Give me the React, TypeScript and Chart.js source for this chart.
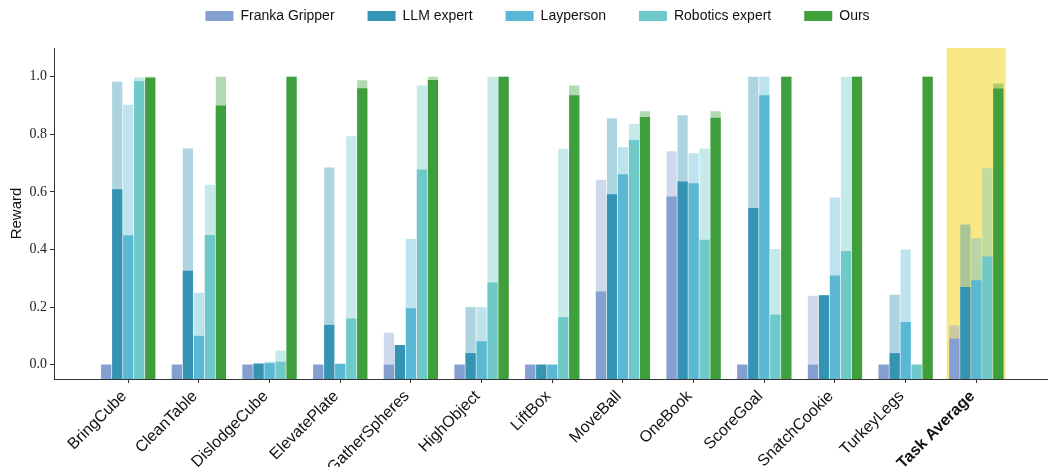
import React, { useEffect, useRef } from 'react';
import { Chart, registerables } from 'chart.js';

Chart.register(...registerables);

const categories = [
  'BringCube', 'CleanTable', 'DislodgeCube', 'ElevatePlate', 'GatherSpheres', 'HighObject',
  'LiftBox', 'MoveBall', 'OneBook', 'ScoreGoal', 'SnatchCookie', 'TurkeyLegs', 'Task Average',
];

const seriesNames = ['Franka Gripper', 'LLM expert', 'Layperson', 'Robotics expert', 'Ours'];
const seriesColors = ['#859fd0', '#3594b4', '#5ab8d4', '#70c9c9', '#3f9f3c'];

// solid bars (average reward)
const frankaAvg = [0, 0, 0, 0, 0, 0, 0, 0.254, 0.584, 0, 0, 0, 0.09];
const llmAvg = [0.609, 0.326, 0.003, 0.138, 0.068, 0.04, 0, 0.592, 0.636, 0.544, 0.241, 0.04, 0.27];
const laypersonAvg = [0.449, 0.1, 0.005, 0.003, 0.196, 0.081, 0, 0.661, 0.63, 0.936, 0.31, 0.148, 0.293];
const roboticsAvg = [0.985, 0.45, 0.01, 0.16, 0.678, 0.285, 0.165, 0.78, 0.434, 0.174, 0.395, 0, 0.376];
const oursAvg = [0.997, 0.9, 1.0, 0.96, 0.989, 1.0, 0.936, 0.86, 0.858, 1.0, 1.0, 1.0, 0.959];

// light bars (best reward)
const frankaBest = [0, 0, 0, 0, 0.111, 0, 0, 0.642, 0.741, 0, 0.239, 0, 0.136];
const llmBest = [0.983, 0.751, 0.005, 0.685, 0.068, 0.2, 0, 0.856, 0.866, 1.0, 0.241, 0.243, 0.487];
const laypersonBest = [0.903, 0.25, 0.01, 0.003, 0.436, 0.2, 0, 0.756, 0.734, 1.0, 0.581, 0.4, 0.439];
const roboticsBest = [0.998, 0.625, 0.049, 0.793, 0.97, 1.0, 0.75, 0.837, 0.751, 0.402, 1.0, 0, 0.682];
const oursBest = [1.0, 1.0, 1.0, 0.988, 1.0, 1.0, 0.97, 0.88, 0.88, 1.0, 1.0, 1.0, 0.977];

const yTicks = [0, 0.2, 0.4, 0.6, 0.8, 1.0];

const avgSeries = [frankaAvg, llmAvg, laypersonAvg, roboticsAvg, oursAvg];
const bestSeries = [frankaBest, llmBest, laypersonBest, roboticsBest, oursBest];

function withAlpha(hex: string, a: number) {
  const r = parseInt(hex.slice(1, 3), 16);
  const g = parseInt(hex.slice(3, 5), 16);
  const b = parseInt(hex.slice(5, 7), 16);
  return `rgba(${r},${g},${b},${a})`;
}

const highlightPlugin = {
  id: 'highlight',
  beforeDatasetsDraw(chart: any) {
    const { ctx, chartArea, scales } = chart;
    const last = categories.length - 1;
    const left = scales.x.getPixelForValue(last - 0.42);
    const right = scales.x.getPixelForValue(last + 0.415);
    const top = scales.y.getPixelForValue(1.1);
    ctx.save();
    ctx.fillStyle = '#f8e886';
    ctx.fillRect(left, top, right - left, chartArea.bottom - top);
    ctx.restore();
  },
};

const legendSizePlugin = {
  id: 'legendSize',
  beforeUpdate(chart: any) {
    const legend = chart.legend;
    if (legend && !legend.__patched) {
      const origFit = legend.fit;
      legend.fit = function () {
        origFit.call(this);
        this.height = 72;
      };
      const origDraw = legend.draw;
      legend.draw = function () {
        const ctx = this.ctx;
        ctx.save();
        ctx.translate(14, 0);
        origDraw.call(this);
        ctx.restore();
      };
      legend.__patched = true;
    }
  },
};

export default function App() {
  const canvasRef = useRef<HTMLCanvasElement | null>(null);

  useEffect(() => {
    const canvas = canvasRef.current;
    if (!canvas) return;

    const common = {
      base: -0.05,
      categoryPercentage: 0.778,
      barPercentage: 0.93,
      borderWidth: 0,
    };

    const solid = seriesNames.map((name, i) => ({
      ...common,
      label: name,
      stack: 's' + i,
      data: avgSeries[i].map((v, k) => ({ x: k, y: v })),
      backgroundColor: seriesColors[i],
    }));
    const light = seriesNames.map((name, i) => ({
      ...common,
      label: name + ' (best)',
      stack: 's' + i,
      data: bestSeries[i].map((v, k) => ({ x: k, y: v })),
      backgroundColor: withAlpha(seriesColors[i], 0.4),
    }));

    const chart = new Chart(canvas, {
      type: 'bar',
      data: { datasets: [...solid, ...light] as any },
      options: {
        animation: false,
        responsive: false,
        maintainAspectRatio: false,
        layout: { padding: { top: -24, left: 0, right: 2, bottom: 0 } },
        plugins: {
          tooltip: { enabled: false },
          legend: {
            position: 'top',
            align: 'center',
            labels: {
              filter: (item: any) => item.datasetIndex < 5,
              boxWidth: 28,
              boxHeight: 10,
              padding: 33,
              color: '#111',
              font: { family: 'Liberation Sans, Arial, sans-serif', size: 14 },
            },
          },
        },
        scales: {
          x: {
            type: 'linear',
            min: -1.05,
            max: 13.0,
            offset: false,
            stacked: true,
            afterBuildTicks: (s: any) => {
              s.ticks = categories.map((_, i) => ({ value: i }));
            },
            afterFit: (s: any) => {
              s.height = 88;
            },
            ticks: {
              autoSkip: false,
              minRotation: 45,
              maxRotation: 45,
              padding: 4,
              labelOffset: -4,
              color: '#111',
              callback: (v: any) => categories[Math.round(Number(v))] ?? '',
              font: (c: any) => ({
                family: 'Liberation Sans, Arial, sans-serif',
                size: 16,
                weight: c.index === categories.length - 1 ? 'bold' : 'normal',
              }),
            },
            grid: { display: true, offset: false, drawOnChartArea: false, drawTicks: true, tickLength: 4, color: '#333' },
            border: { display: true, color: '#333', width: 1 },
          },
          y: {
            min: -0.05,
            max: 1.1,
            stacked: false,
            afterBuildTicks: (s: any) => {
              s.ticks = yTicks.map((v) => ({ value: v }));
            },
            afterFit: (s: any) => {
              s.width = 54;
            },
            ticks: {
              padding: 3,
              color: '#222',
              callback: (v: any) => Number(v).toFixed(1),
              font: { family: 'Liberation Serif, serif', size: 14 },
            },
            title: {
              display: true,
              text: 'Reward',
              color: '#111',
              font: { family: 'Liberation Sans, Arial, sans-serif', size: 15 },
              padding: { top: 8, bottom: 4 },
            },
            grid: { display: true, drawOnChartArea: false, drawTicks: true, tickLength: 4, color: '#333' },
            border: { display: true, color: '#333', width: 1 },
          },
        },
      },
      plugins: [highlightPlugin, legendSizePlugin],
    } as any);

    return () => chart.destroy();
  }, []);

  return (
    <div style={{ position: 'fixed', left: 0, top: 0, width: 1049, height: 467, background: '#fff' }}>
      <canvas ref={canvasRef} width={1049} height={467} style={{ width: 1049, height: 467, display: 'block' }} />
    </div>
  );
}
